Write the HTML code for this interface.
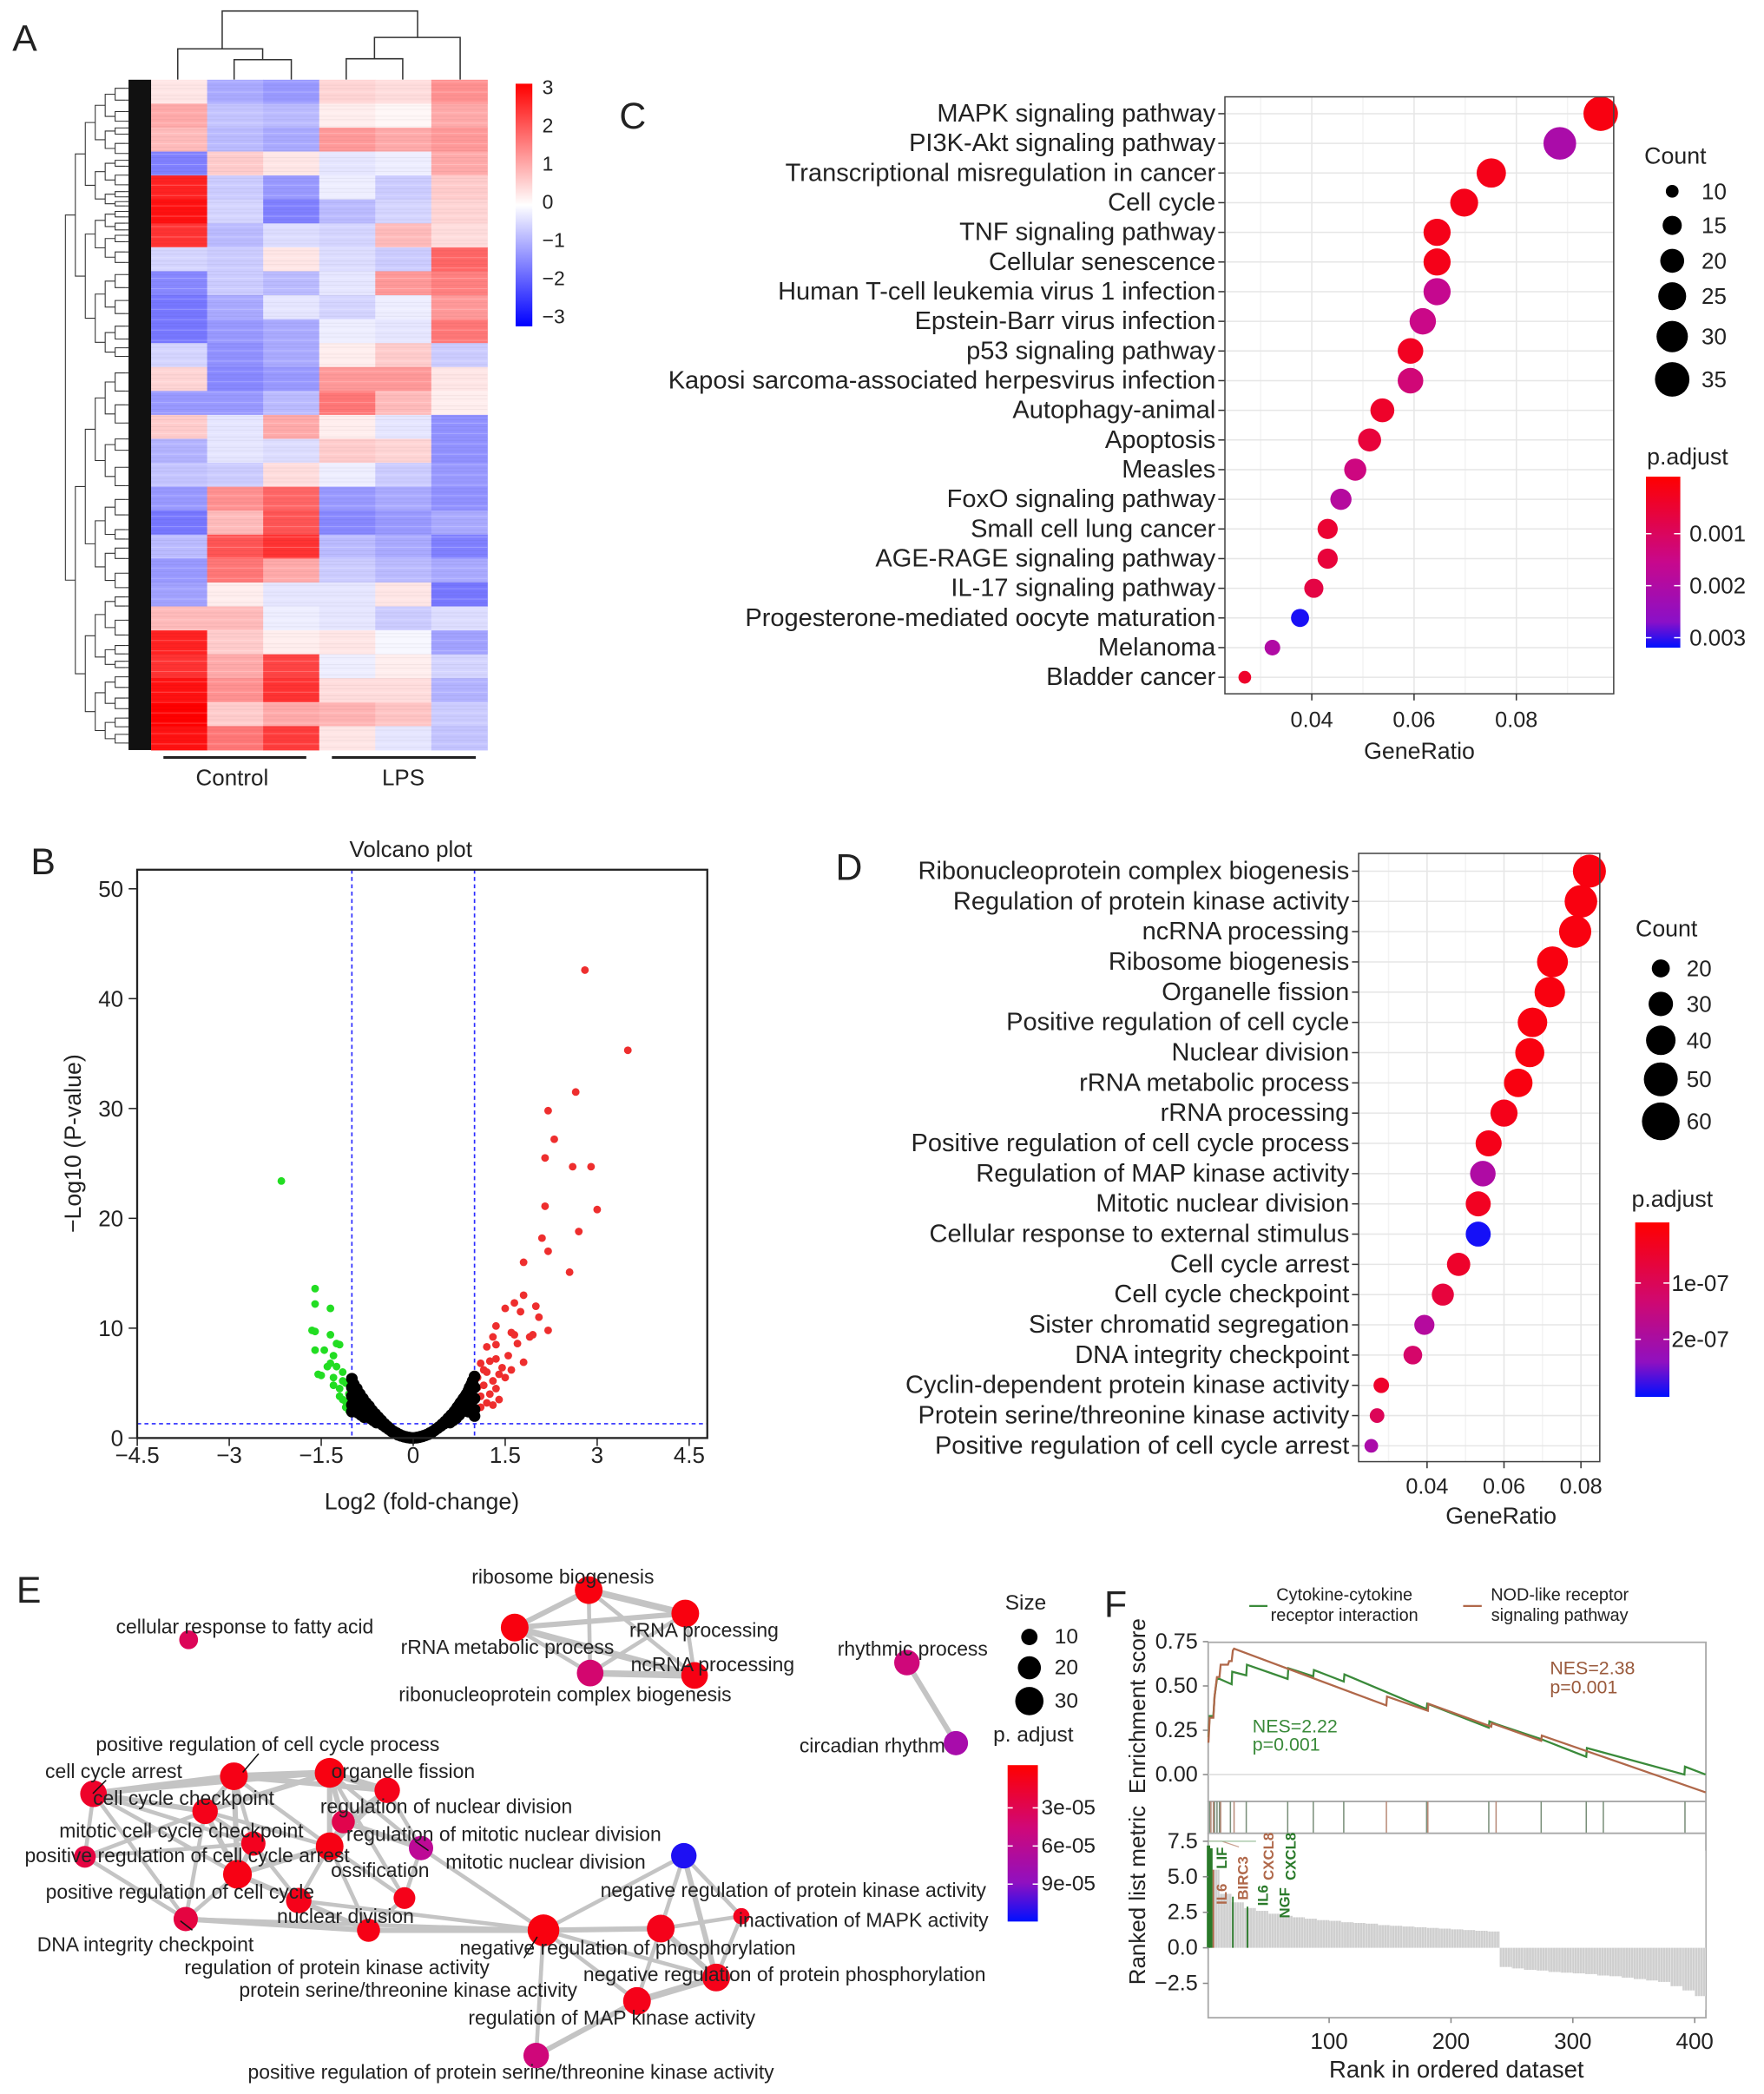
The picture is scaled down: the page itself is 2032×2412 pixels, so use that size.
<!DOCTYPE html>
<html><head><meta charset="utf-8"><title>Figure</title>
<style>
html,body{margin:0;padding:0;background:#fff;}
svg{display:block;font-family:"Liberation Sans",Arial,sans-serif;}
</style></head>
<body>
<svg id="fig" xmlns="http://www.w3.org/2000/svg" width="2032" height="2412" viewBox="0 0 1329.8 1578.5" preserveAspectRatio="none">
<defs>
<linearGradient id="gradC" x1="0" y1="0" x2="0" y2="1"><stop offset="0" stop-color="#ff0000"/><stop offset="0.5" stop-color="#c8088c"/><stop offset="0.85" stop-color="#8a10c8"/><stop offset="1" stop-color="#0010ff"/></linearGradient>
<linearGradient id="gradD" x1="0" y1="0" x2="0" y2="1"><stop offset="0" stop-color="#ff0000"/><stop offset="0.45" stop-color="#d00870"/><stop offset="0.8" stop-color="#9010c0"/><stop offset="1" stop-color="#0010ff"/></linearGradient>
<linearGradient id="gradE" x1="0" y1="0" x2="0" y2="1"><stop offset="0" stop-color="#ff0000"/><stop offset="0.4" stop-color="#d00878"/><stop offset="0.75" stop-color="#9010c0"/><stop offset="1" stop-color="#0010ff"/></linearGradient>
<linearGradient id="gradA" x1="0" y1="0" x2="0" y2="1"><stop offset="0" stop-color="#ff0000"/><stop offset="0.5" stop-color="#ffffff"/><stop offset="1" stop-color="#0000ff"/></linearGradient>
</defs>
</svg>
<script>
// ---------- data ----------
const heatRows = [
[0.3,-1,-1.2,0.5,0.4,1.3],[1.0,-0.7,-0.8,0.2,0.1,1.0],[0.8,-0.8,-1.0,1.2,1.0,1.2],[-1.5,0.6,0.3,-0.3,-0.2,1.0],
[2.6,-0.6,-1.2,-0.2,-0.6,0.6],[2.8,-0.5,-1.5,-0.8,-0.5,0.5],[2.4,-0.8,-0.4,-0.5,0.8,0.4],[-0.5,-0.6,0.3,-0.4,-0.6,1.8],
[-1.4,-0.6,-0.8,-0.3,1.2,1.5],[-1.6,-1.0,-0.3,-0.5,-0.2,1.2],[-1.6,-1.2,-1.0,-0.2,-0.3,1.6],[-0.5,-1.3,-1.0,0.2,0.6,-0.6],
[0.5,-1.4,-1.2,1.2,1.2,0.3],[-1.2,-1.2,-0.8,1.6,0.8,0.2],[0.6,-0.3,1.0,0.2,-0.3,-1.3],[-0.9,-0.3,-0.4,0.6,0.5,-1.3],
[-0.7,-0.6,0.4,-0.2,-0.6,-1.2],[-1.2,1.3,1.8,-1.2,-1.0,-1.3],[-1.6,0.8,2.0,-1.4,-1.2,-1.0],[-0.8,2.0,2.4,-0.8,-1.0,-1.5],
[-1.2,1.6,1.0,-0.6,-0.8,-1.0],[-1.1,0.2,-0.3,-0.3,0.3,-1.6],[0.8,0.8,-0.2,-0.3,-0.6,-0.4],[2.6,0.6,0.2,0.3,-0.1,-1.1],
[2.4,1.0,2.2,-0.2,0.2,-0.5],[2.8,1.3,2.4,0.4,0.4,-0.9],[3.0,0.6,1.0,0.9,0.7,-0.6],[2.8,1.6,2.3,0.3,-0.3,-0.7]];
const heatTicks = [3,2,1,0,-1,-2,-3];

const catC = ["MAPK signaling pathway","PI3K-Akt signaling pathway","Transcriptional misregulation in cancer","Cell cycle","TNF signaling pathway","Cellular senescence","Human T-cell leukemia virus 1 infection","Epstein-Barr virus infection","p53 signaling pathway","Kaposi sarcoma-associated herpesvirus infection","Autophagy-animal","Apoptosis","Measles","FoxO signaling pathway","Small cell lung cancer","AGE-RAGE signaling pathway","IL-17 signaling pathway","Progesterone-mediated oocyte maturation","Melanoma","Bladder cancer"];
const ratioC = [0.0965,0.0885,0.0751,0.0698,0.0645,0.0645,0.0645,0.0617,0.0593,0.0593,0.0538,0.0513,0.0485,0.0457,0.0431,0.0431,0.0404,0.0377,0.0323,0.0269];
const countC = [35,32,27,25,24,24,24,23,22,22,20,19,18,17,16,16,15,14,12,10];
const padjC = [0.0001,0.0021,0.0002,0.0002,0.0002,0.0002,0.0016,0.0015,0.0003,0.0013,0.0004,0.0006,0.0014,0.0019,0.0005,0.0006,0.0007,0.0031,0.0020,0.0004];
const ticksC = [0.04,0.06,0.08];
const countLegC = [10,15,20,25,30,35];
const padjTicksC = [0.001,0.002,0.003];

const volGreen = [[-2.15,23.4],[-1.6,13.6],[-1.6,12.2],[-1.35,11.8],[-1.65,9.8],[-1.6,9.7],[-1.35,9.4],[-1.25,8.6],[-1.6,8],[-1.45,8],[-1.2,8.5],[-1.3,7.5],[-1.35,6.8],[-1.4,6.5],[-1.55,5.8],[-1.5,5.7],[-1.25,6.5],[-1.15,6],[-1.3,5.5],[-1.1,5],[-1.2,4.5],[-1.05,4.0],[-1.15,3.5],[-1.05,3],[-1.2,3.8],[-1.1,2.8],[-1.3,4.8],[-1.15,5.2],[-1.05,2.5],[-1.1,3.3]];
const volRed = [[2.8,42.6],[3.5,35.3],[2.65,31.5],[2.2,29.8],[2.3,27.2],[2.15,25.5],[2.6,24.7],[2.9,24.7],[2.15,21.1],[3.0,20.8],[2.7,18.8],[2.1,18.2],[2.2,17],[1.8,16],[2.55,15.1],[1.8,13],[1.65,12.3],[1.5,11.8],[1.75,11.5],[2.0,12],[2.05,11],[1.35,10.2],[2.2,9.8],[1.6,9.6],[1.65,9.4],[1.95,9.4],[1.9,9.2],[1.3,9.2],[1.35,8.5],[1.7,8.6],[1.2,8.3],[1.55,7.5],[1.8,6.9],[1.35,7.2],[1.25,7],[1.1,6.8],[1.45,6.4],[1.6,6.2],[1.2,6],[1.4,5.8],[1.05,5.5],[1.3,5.2],[1.5,5.5],[1.15,4.8],[1.35,4.5],[1.25,4],[1.1,3.8],[1.4,3.5],[1.2,3.2],[1.1,2.8],[1.3,3],[1.05,4.6],[1.15,6.2]];
const volBlack = [[-1,5.4],[-1,4.6],[-1,3.8],[-1,3.0],[-1,2.4],[-0.97,4.9],[-0.95,4.2],[-0.95,3.4],[-0.95,2.6],[-0.92,4.5],[-0.9,3.8],[-0.9,3.0],[-0.9,2.3],[-0.87,4.0],[-0.85,3.4],[-0.85,2.7],[-0.85,2.1],[-0.82,3.6],[-0.8,3.0],[-0.8,2.4],[-0.8,1.9],[-0.77,3.2],[-0.75,2.7],[-0.75,2.1],[-0.72,2.9],[-0.7,2.4],[-0.7,1.8],[-0.67,2.5],[-0.65,2.0],[-0.65,1.6],[-0.62,2.2],[-0.6,1.8],[-0.6,1.4],[-0.57,1.9],[-0.55,1.5],[-0.52,1.6],[-0.5,1.2],[-0.47,1.3],[-0.45,1.0],[-0.42,1.05],[-0.4,0.8],[-0.37,0.8],[-0.35,0.6],[-0.32,0.6],[-0.3,0.45],[-0.27,0.45],[-0.25,0.3],[-0.22,0.3],[-0.2,0.2],[-0.17,0.18],[-0.15,0.12],[-0.12,0.1],[-0.1,0.06],[-0.07,0.04],[-0.05,0.02],[0,0],[0.05,0.03],[0.07,0.05],[0.1,0.08],[0.12,0.12],[0.15,0.15],[0.17,0.2],[0.2,0.25],[0.22,0.3],[0.25,0.35],[0.27,0.45],[0.3,0.5],[0.32,0.6],[0.35,0.7],[0.37,0.8],[0.4,0.9],[0.42,1.0],[0.45,1.1],[0.47,1.25],[0.5,1.3],[0.52,1.5],[0.55,1.6],[0.57,1.8],[0.6,1.9],[0.6,1.4],[0.62,2.1],[0.65,2.2],[0.65,1.6],[0.67,2.4],[0.7,2.6],[0.7,1.8],[0.72,2.8],[0.75,3.0],[0.75,2.1],[0.77,3.2],[0.8,3.4],[0.8,2.4],[0.82,3.6],[0.85,3.8],[0.85,2.6],[0.87,4.0],[0.9,4.3],[0.9,3.2],[0.9,2.4],[0.92,4.6],[0.95,4.9],[0.95,3.6],[0.95,2.6],[0.97,5.2],[1,5.6],[1,4.6],[1,3.6],[1,2.6],[1,2.0]];
const volXTicks = [-4.5,-3,-1.5,0,1.5,3,4.5];
const volYTicks = [0,10,20,30,40,50];

const catD = ["Ribonucleoprotein complex biogenesis","Regulation of protein kinase activity","ncRNA processing","Ribosome biogenesis","Organelle fission","Positive regulation of cell cycle","Nuclear division","rRNA metabolic process","rRNA processing","Positive regulation of cell cycle process","Regulation of MAP kinase activity","Mitotic nuclear division","Cellular response to external stimulus","Cell cycle arrest","Cell cycle checkpoint","Sister chromatid segregation","DNA integrity checkpoint","Cyclin-dependent protein kinase activity","Protein serine/threonine kinase activity","Positive regulation of cell cycle arrest"];
const ratioD = [0.0822,0.0800,0.0785,0.0726,0.0719,0.0674,0.0667,0.0637,0.0600,0.0560,0.0545,0.0533,0.0533,0.0482,0.0441,0.0393,0.0363,0.0281,0.0270,0.0255];
const countD = [48,47,46,43,42,40,39,38,35,33,32,31,31,28,26,23,21,17,16,15];
const padjD = [0.1,0.1,0.1,0.1,0.1,0.1,0.1,0.1,0.2,0.2,1.9,0.3,2.95,0.4,0.6,1.8,1.1,0.4,0.9,2.0];
const ticksD = [0.04,0.06,0.08];
const countLegD = [20,30,40,50,60];
const padjTicksD = [1,2];

const nodeNames = ["ribosome biogenesis","rRNA processing","rRNA metabolic process","ncRNA processing","ribonucleoprotein complex biogenesis","cellular response to fatty acid","rhythmic process","circadian rhythm","cell cycle arrest","positive regulation of cell cycle process","organelle fission","regulation of nuclear division","cell cycle checkpoint","regulation of mitotic nuclear division","mitotic nuclear division","mitotic cell cycle checkpoint","ossification","positive regulation of cell cycle arrest","positive regulation of cell cycle","chromosome segregation","sister chromatid segregation","DNA integrity checkpoint","nuclear division","regulation of protein kinase activity","negative regulation of phosphorylation","inactivation of MAPK activity","negative regulation of protein kinase activity","negative regulation of protein phosphorylation","regulation of MAP kinase activity","positive regulation of protein serine/threonine kinase activity"];
const nodeX = [443.8,516.6,388,523.6,444.9,142.2,683.7,720.6,70.5,176.3,248.5,291.9,154.6,258.8,317.4,191,248.5,64,179,225.2,304.9,140,277.8,409.7,498.1,558.9,515.5,539.9,480.2,404.2];
const nodeY = [1198.7,1216.3,1226.9,1263,1261.2,1236.1,1253.3,1314,1352.2,1339,1336.4,1349.6,1365.4,1373.3,1393.1,1389.7,1391.8,1399.7,1412.9,1432.7,1430.8,1446.6,1455.1,1455.1,1453.8,1444.5,1398.9,1490.7,1508.4,1549.5];
const nodeSize = [26,26,26,24,24,12,22,20,24,26,30,22,22,18,20,20,26,16,28,22,16,20,18,34,26,9,22,26,26,22];
const nodeP = [0.3,0.3,0.3,0.5,4.5,3.5,5,8,1.5,0.6,0.4,0.8,0.8,3,6.5,1,0.5,2.5,0.5,0.8,0.8,2.5,0.6,0.3,0.8,1,11.5,0.8,0.8,5];
const edges = [[0,1],[0,2],[0,3],[0,4],[1,2],[1,3],[1,4],[2,3],[2,4],[3,4],[6,7],
[8,9],[8,10],[8,12],[8,15],[8,17],[8,18],[8,21],[9,10],[9,11],[9,12],[9,15],[9,18],[9,16],[10,11],[10,12],[10,13],[10,16],[10,14],[10,20],[11,13],[11,16],[11,14],[12,15],[12,18],[12,21],[12,16],[13,16],[13,14],[15,17],[15,18],[15,19],[16,18],[16,19],[16,20],[16,22],[14,20],[18,19],[18,21],[18,22],[19,22],[20,22],[21,22],[17,21],[17,12],[14,23],[21,23],[22,23],[19,23],
[23,24],[23,26],[23,27],[23,28],[23,29],[24,25],[24,26],[24,27],[24,28],[25,26],[26,27],[27,28],[28,29],[25,27]];
const edgeW = [5,4,3,3,4,3,3,5,3,5,4, 5,3,4,3,3,3,3,5,4,4,3,4,3,5,4,4,4,3,3,4,4,3,3,4,3,3,4,4,3,4,3,4,3,3,3,3,4,3,3,4,3,4,3,3,3,3,4,3, 4,3,3,3,3,3,3,4,3,3,4,5,4,3];
const sizeLegE = [10,20,30];
const padjTicksE = [3,6,9];

const esGreenRank = [1,2,5,6,8,10,20,20.5,32,32.5,66,66.5,87,87.5,112,112.5,180,180.5,231,231.5,237,274,311,311.5,391.5,392,409];
const esGreenVal = [0.21,0.33,0.33,0.44,0.54,0.54,0.51,0.58,0.56,0.62,0.54,0.60,0.555,0.59,0.525,0.565,0.37,0.40,0.265,0.30,0.285,0.20,0.10,0.15,0.0,0.045,0.0];
const esBrownRank = [1,2,5,6,8,10,11,17,18,20,21,22,147,147.5,181,181.5,233,233.5,274,274.5,409];
const esBrownVal = [0.18,0.32,0.32,0.44,0.55,0.55,0.62,0.62,0.64,0.64,0.70,0.71,0.39,0.44,0.36,0.40,0.27,0.29,0.19,0.22,-0.10];
const hitsGreen = [2,6,8,10,19,32,66,87,112,180,231,274,311,325,392];
const hitsBrown = [3,5,11,22,147,181,237];
const metricVals = [5.5,3.8,3.2,2.8,2.6,2.4,2.25,2.15,2.05,1.95,1.9,1.8,1.75,1.7,1.6,1.55,1.5,1.45,1.4,1.35,1.3,1.25,1.2,1.15,-1.35,-1.45,-1.55,-1.6,-1.7,-1.75,-1.8,-1.85,-1.95,-2.0,-2.1,-2.2,-2.3,-2.4,-2.7,-3.0,-3.4];
const esTicks = [0.75,0.50,0.25,0.00];
const metricTicks = [7.5,5.0,2.5,0.0,-2.5];
const rankTicks = [100,200,300,400];

// ---------- helpers ----------
const NS='http://www.w3.org/2000/svg';
const svg=document.getElementById('fig');
function mk(tag,attrs,parent){const e=document.createElementNS(NS,tag);for(const k in attrs)e.setAttribute(k,attrs[k]);(parent||svg).appendChild(e);return e;}
function tx(str,x,y,size,anchor,parent,fill){const t=mk('text',{x:x,y:y,'font-size':size,'text-anchor':anchor||'start','dominant-baseline':'central',fill:fill||'#222'},parent);t.textContent=str;return t;}
function lerp(a,b,t){return Math.round(a+(b-a)*t);}
function ramp(t){t=Math.max(0,Math.min(1,t));const s=[[0,255,0,0],[0.5,200,8,140],[0.85,138,16,200],[1,0,16,255]];for(let i=1;i<s.length;i++){if(t<=s[i][0]){const u=(t-s[i-1][0])/(s[i][0]-s[i-1][0]);return `rgb(${lerp(s[i-1][1],s[i][1],u)},${lerp(s[i-1][2],s[i][2],u)},${lerp(s[i-1][3],s[i][3],u)})`;}}return 'rgb(0,16,255)';}
function heat(v){const t=Math.min(1,Math.abs(v)/3);const c=Math.round(255*(1-t));return v>=0?`rgb(255,${c},${c})`:`rgb(${c},${c},255)`;}
function letter(s,x,y){const t=tx(s,x,y,28,'middle');}

// ---------- Panel A ----------
const gA=mk('g',{});


letter('A',18.7,29);
const hx0=113.9, hx1=367.4, hy0=60.1, hy1=565.4;
const colW=(hx1-hx0)/6, rowH=(hy1-hy0)/heatRows.length;
heatRows.forEach((row,i)=>{row.forEach((v,j)=>{
  const r=mk('rect',{x:hx0+j*colW,y:hy0+i*rowH,width:colW+0.3,height:rowH+0.3,fill:heat(v)},gA);
  
  
});});
for(let k=0,y=hy0+1.5;y<hy1;y+=2.6,k++){mk('line',{x1:hx0,x2:hx1,y1:y,y2:y,stroke:(k%3===0)?'#ffffff':'#000000','stroke-width':0.7,opacity:(k%3===0)?0.22:0.04},gA);}
// row dendrogram
const dend=mk('g',{stroke:'#333','stroke-width':0.7,fill:'none'},gA);


mk('rect',{x:96.9,y:hy0,width:17,height:hy1-hy0,fill:'#111',stroke:'none'},dend);
const splitFr=[0.62,0.45,0.55,0.38,0.6,0.5,0.42,0.57];
function tree(a,b,depth){const x=49.3+depth*7.5;if(depth>=6){mk('path',{d:`M${x},${(a+b)/2} H97`},dend);return (a+b)/2;}
  const m=a+(b-a)*splitFr[(depth*3+Math.round(a))%splitFr.length];
  const y1=tree(a,m,depth+1),y2=tree(m,b,depth+1);const xc=x+7.5;
  mk('path',{d:`M${xc},${y1} H${x} V${y2} H${xc}`},dend);return (y1+y2)/2;}
tree(hy0+2,hy1-2,0);
// column dendrogram
const cd=mk('g',{stroke:'#333','stroke-width':1,fill:'none'},gA);


mk('path',{d:'M134,60 V36.8 H198 V45 M176.5,60 V45 H219.6 V60 M167.5,36.8 V8.3 H314.8 V28.2 M261,60 V44.3 H303.6 V60 M282.3,44.3 V28.2 H346.9 V60'},cd);
const ck=mk('rect',{x:388.7,y:63.1,width:12.6,height:182.9,fill:'url(#gradA)'});


heatTicks.forEach(v=>{const t=tx(v<0?'\u2212'+(-v):String(v),408.8,152.15-v*28.82,15,'start');});
mk('line',{x1:123.2,x2:230.9,y1:571,y2:571,stroke:'#222','stroke-width':2});
mk('line',{x1:250.2,x2:358.7,y1:571,y2:571,stroke:'#222','stroke-width':2});
const lc=tx('Control',175,586,17,'middle');
const ll=tx('LPS',304,586,17,'middle');

// ---------- dot plots ----------
function dotPlot(o){
  const g=mk('g',{});
  
  
  const X=v=>o.xt0+(v-0.04)*o.k;
  const Y=i=>o.ry0+i*o.rs;
  mk('rect',{x:o.L,y:o.T,width:o.R-o.L,height:o.B-o.T,fill:'#fff'},g);
  for(let v=0.02;v<=0.1001;v+=0.01){const x=X(v);if(x>o.L&&x<o.R)mk('line',{x1:x,x2:x,y1:o.T,y2:o.B,stroke:(Math.round(v*100)%2===0)?'#e6e6e6':'#f3f3f3','stroke-width':1},g);}
  o.cats.forEach((c,i)=>{mk('line',{x1:o.L,x2:o.R,y1:Y(i),y2:Y(i),stroke:'#e6e6e6','stroke-width':1},g);});
  o.cats.forEach((c,i)=>{
    const d=mk('circle',{cx:X(o.ratio[i]),cy:Y(i),r:o.rf(o.count[i]),fill:ramp(o.pt(o.padj[i]))},g);
    
    
    mk('line',{x1:o.L-5,x2:o.L,y1:Y(i),y2:Y(i),stroke:'#333','stroke-width':1},g);
    const t=tx(c,o.L-7,Y(i),o.fs,'end',g);
    
    
  });
  mk('rect',{x:o.L,y:o.T,width:o.R-o.L,height:o.B-o.T,fill:'none',stroke:'#444','stroke-width':1},g);
  o.ticks.forEach(v=>{mk('line',{x1:X(v),x2:X(v),y1:o.B,y2:o.B+5,stroke:'#333'},g);const t=tx(v.toFixed(2),X(v),o.tickY,16.5,'middle',g);});
  const xt=tx('GeneRatio',o.titleX,o.titleY,17.5,'middle',g);
  
  
  return g;
}
letter('C',477,87.7);
const rC=c=>Math.sqrt(23+5.84*(c-10));
const ptC=p=>(p+0.0000969)/(0.00319+0.0000969);
const gC=dotPlot({name:'panel-c-kegg-dotplot',cats:catC,ratio:ratioC,count:countC,padj:padjC,L:923.4,R:1216.5,T:73,B:523,xt0:988.9,k:3855,ry0:85.7,rs:22.36,rf:rC,pt:ptC,fs:19,ticks:ticksC,tickY:543,titleX:1070,titleY:566});
{const t=tx('Count',1239.6,117.5,17.5,'start',gC);}
const legCY=[144.2,169.9,196.6,223.3,253.7,286];
countLegC.forEach((c,i)=>{const d=mk('circle',{cx:1260.6,cy:legCY[i],r:rC(c),fill:'#000'},gC);const t=tx(String(c),1282.7,legCY[i],17,'start',gC);});
{const t=tx('p.adjust',1241.5,344.3,17.5,'start',gC);}
{const b=mk('rect',{x:1240.8,y:359.3,width:25.9,height:128.9,fill:'url(#gradC)'},gC);}
padjTicksC.forEach(p=>{const y=402.3+(p-0.001)*39200;mk('line',{x1:1240.8,x2:1245,y1:y,y2:y,stroke:'#fff'},gC);mk('line',{x1:1262,x2:1266.7,y1:y,y2:y,stroke:'#fff'},gC);const t=tx(p.toFixed(3),1273.6,y,17,'start',gC);});

letter('D',640,654);
const rD=c=>Math.sqrt(Math.max(4,46+3.9*(c-20)));
const ptD=p=>(p+0.078)/(3.02+0.078);
const gD=dotPlot({name:'panel-d-go-dotplot',cats:catD,ratio:ratioD,count:countD,padj:padjD,L:1024.2,R:1206,T:643.3,B:1101.8,xt0:1075.8,k:2900,ry0:656.7,rs:22.8,rf:rD,pt:ptD,fs:19,ticks:ticksD,tickY:1120.7,titleX:1131.6,titleY:1142.5});
{const t=tx('Count',1256.3,700,17.5,'middle',gD);}
const legDY=[730,756.8,784.2,813.6,845.3];
countLegD.forEach((c,i)=>{const d=mk('circle',{cx:1252,cy:legDY[i],r:rD(c),fill:'#000'},gD);const t=tx(String(c),1271.4,legDY[i],17,'start',gD);});
{const t=tx('p.adjust',1230,903.7,17.5,'start',gD);}
{const b=mk('rect',{x:1232.7,y:921.5,width:25.8,height:131.5,fill:'url(#gradD)'},gD);}
padjTicksD.forEach(p=>{const y=967.2+(p-1)*42.4;mk('line',{x1:1232.7,x2:1237,y1:y,y2:y,stroke:'#fff'},gD);mk('line',{x1:1254,x2:1258.5,y1:y,y2:y,stroke:'#fff'},gD);const t=tx(p+'e-07',1260,y,17,'start',gD);});

// ---------- Panel B ----------
const gB=mk('g',{});


letter('B',32.5,650);
const VX=v=>311.5+v*46.23, VY=v=>1084-v*8.28;
{const t=tx('Volcano plot',309.7,640,17,'middle',gB);}
mk('line',{x1:VX(-1),x2:VX(-1),y1:655.6,y2:1084,stroke:'#2b2bff','stroke-width':1.1,'stroke-dasharray':'3,2.5'},gB);
mk('line',{x1:VX(1),x2:VX(1),y1:655.6,y2:1084,stroke:'#2b2bff','stroke-width':1.1,'stroke-dasharray':'3,2.5'},gB);
mk('line',{x1:103.4,x2:533.2,y1:VY(1.3),y2:VY(1.3),stroke:'#2b2bff','stroke-width':1.1,'stroke-dasharray':'3,2.5'},gB);
volGreen.forEach(p=>{const c=mk('circle',{cx:VX(p[0]),cy:VY(p[1]),r:2.9,fill:'#22dd22'},gB);});
volRed.forEach(p=>{const c=mk('circle',{cx:VX(p[0]),cy:VY(p[1]),r:2.9,fill:'#ee2e2e'},gB);});
volBlack.forEach(p=>{const c=mk('circle',{cx:VX(p[0]),cy:VY(p[1]),r:4.4,fill:'#000'},gB);});
mk('rect',{x:103.4,y:655.6,width:429.8,height:428.4,fill:'none',stroke:'#222','stroke-width':1.5},gB);
volXTicks.forEach(v=>{mk('line',{x1:VX(v),x2:VX(v),y1:1084,y2:1090,stroke:'#222'},gB);const t=tx(v<0?'\u2212'+(-v):String(v),VX(v),1097,17,'middle',gB);});
volYTicks.forEach(v=>{mk('line',{x1:97,x2:103.4,y1:VY(v),y2:VY(v),stroke:'#222'},gB);const t=tx(String(v),93,VY(v),17,'end',gB);});
{const t=tx('Log2 (fold-change)',318,1132,17.5,'middle',gB);}
{const t=tx('\u2212Log10 (P-value)',0,0,17.5,'middle',gB);t.setAttribute('transform','translate(55,862) rotate(-90)');}

// ---------- Panel E ----------
const gE=mk('g',{});


letter('E',21.7,1199);
const rE=s=>Math.sqrt(s)*2.05;
const ptE=p=>(p+0.36)/(11.9+0.36);
edges.forEach((e,i)=>{const l=mk('line',{x1:nodeX[e[0]],y1:nodeY[e[0]],x2:nodeX[e[1]],y2:nodeY[e[1]],stroke:'#c4c4c4','stroke-width':edgeW[i]},gE);});
nodeNames.forEach((n,i)=>{const c=mk('circle',{cx:nodeX[i],cy:nodeY[i],r:rE(nodeSize[i]),fill:ramp(ptE(nodeP[i]))},gE);});
[[195,1322,183,1336],[80,1342,70,1352],[323,1395,313,1388],[145,1455,136,1448],[395,1476,405,1460]].forEach(s=>mk('line',{x1:s[0],y1:s[1],x2:s[2],y2:s[3],stroke:'#111','stroke-width':1},gE));
const eLabels=[["ribosome biogenesis",424.3,1188.6],["cellular response to fatty acid",184.5,1226.1],["rRNA processing",530.7,1228.7],["rRNA metabolic process",382.5,1241.4],["rhythmic process",688,1242.7],["ncRNA processing",537.2,1254.6],["ribonucleoprotein complex biogenesis",426,1277],["positive regulation of cell cycle process",201.8,1314.7],["circadian rhythm",657.6,1315.8],["cell cycle arrest",85.7,1335],["organelle fission",303.9,1335],["cell cycle checkpoint",138.4,1355.4],["regulation of nuclear division",336.4,1361.4],["mitotic cell cycle checkpoint",136.7,1379.9],["regulation of mitotic nuclear division",379.8,1382.5],["positive regulation of cell cycle arrest",141.1,1398.4],["mitotic nuclear division",411.3,1403.6],["ossification",286.5,1409.7],["positive regulation of cell cycle",135.7,1426.1],["negative regulation of protein kinase activity",598,1424.7],["nuclear division",260.4,1444.5],["inactivation of MAPK activity",651,1447.2],["DNA integrity checkpoint",109.6,1465.6],["negative regulation of phosphorylation",473.2,1468.3],["regulation of protein kinase activity",254,1482.8],["negative regulation of protein phosphorylation",591.4,1488.1],["protein serine/threonine kinase activity",307.7,1499.9],["regulation of MAP kinase activity",461.2,1521],["positive regulation of protein serine/threonine kinase activity",385.2,1561.9]];
eLabels.forEach(l=>{const t=tx(l[0],l[1],l[2],15,'middle',gE);});
{const t=tx('Size',773.2,1208.4,16,'middle',gE);}
const legEY=[1234,1257.2,1282.3];
sizeLegE.forEach((s,i)=>{const c=mk('circle',{cx:776,cy:legEY[i],r:rE(s)*0.95,fill:'#000'},gE);const t=tx(String(s),795,legEY[i],16,'start',gE);});
{const t=tx('p. adjust',779,1308,16,'middle',gE);}
{const b=mk('rect',{x:759.6,y:1330.6,width:22.8,height:117.9,fill:'url(#gradE)'},gE);}
padjTicksE.forEach(p=>{const y=1362.8+(p-3)*9.58;mk('line',{x1:759.6,x2:763.5,y1:y,y2:y,stroke:'#fff'},gE);mk('line',{x1:778.5,x2:782.4,y1:y,y2:y,stroke:'#fff'},gE);const t=tx(p+'e-05',785,y,16,'start',gE);});

// ---------- Panel F ----------
const gF=mk('g',{});


letter('F',841,1209.7);
const FX=r=>910.1+r*0.9187, FES=v=>1337.7-v*133.6, FM=v=>1468.3-v*10.71;
const FL=910.8, FR=1286;
mk('rect',{x:FL,y:1238,width:FR-FL,height:120,fill:'#fff',stroke:'#aaa','stroke-width':1.2},gF);
mk('line',{x1:FL,x2:FR,y1:FES(0),y2:FES(0),stroke:'#ddd','stroke-width':1},gF);
function polyPts(rs,vs){return rs.map((r,i)=>FX(r).toFixed(1)+','+FES(vs[i]).toFixed(1)).join(' ');}
{const p=mk('polyline',{points:polyPts(esGreenRank,esGreenVal),fill:'none',stroke:'#3a8a3a','stroke-width':1.5},gF);}
{const p=mk('polyline',{points:polyPts(esBrownRank,esBrownVal),fill:'none',stroke:'#b0684a','stroke-width':1.5},gF);}
esTicks.forEach(v=>{mk('line',{x1:FL-4,x2:FL,y1:FES(v),y2:FES(v),stroke:'#888'},gF);const t=tx(v.toFixed(2),903,FES(v),16.5,'end',gF);});
{const t=tx('NES=2.38',1168.4,1257.6,14,'start',gF,'#9a5a3c');}
{const t=tx('p=0.001',1168.4,1271.9,14,'start',gF,'#9a5a3c');}
{const t=tx('NES=2.22',944.2,1301.3,14,'start',gF,'#3a8a3a');}
{const t=tx('p=0.001',944.2,1315.2,14,'start',gF,'#3a8a3a');}
mk('rect',{x:FL,y:1358,width:FR-FL,height:24,fill:'#fff',stroke:'#aaa','stroke-width':1.2},gF);
hitsGreen.forEach(r=>{const l=mk('line',{x1:FX(r),x2:FX(r),y1:1358,y2:1382,stroke:'#7a8f7a','stroke-width':1},gF);});
hitsBrown.forEach(r=>{const l=mk('line',{x1:FX(r),x2:FX(r),y1:1358,y2:1382,stroke:'#b88a78','stroke-width':1},gF);});
mk('rect',{x:FL,y:1382,width:FR-FL,height:139,fill:'#fff',stroke:'#aaa','stroke-width':1.2},gF);
metricVals.forEach((m,i)=>{const x0=FX(Math.max(1,i*10)),x1=FX(Math.min(409,i*10+10));const b=mk('rect',{x:x0,y:Math.min(FM(m),FM(0)),width:x1-x0,height:Math.abs(FM(m)-FM(0)),fill:'#cfcfcf'},gF);});
for(let r=2;r<409;r+=2.2){mk('line',{x1:FX(r),x2:FX(r),y1:1395,y2:1515,stroke:'#fff','stroke-width':0.35,opacity:0.6},gF);}
[[1,7.2,'#2a7a2a'],[3,7.0,'#2a7a2a'],[5,5.5,'#b0684a'],[21,3.6,'#2a7a2a'],[33,2.9,'#2a7a2a']].forEach(h=>mk('line',{x1:FX(h[0]),x2:FX(h[0]),y1:FM(0),y2:FM(h[1]),stroke:h[2],'stroke-width':h[0]<4?2.5:1.2},gF));
mk('polyline',{points:`${FX(1)},${FM(7.5)} ${FX(12)},${FM(7.5)} ${FX(26)},${FM(7.1)}`,fill:'none',stroke:'#c9a090','stroke-width':0.8},gF);
mk('polyline',{points:`${FX(1)},${FM(7.5)} ${FX(40)},${FM(7.5)}`,fill:'none',stroke:'#9cbf9c','stroke-width':0.8},gF);
metricTicks.forEach(v=>{mk('line',{x1:FL-4,x2:FL,y1:FM(v),y2:FM(v),stroke:'#888'},gF);const t=tx(v<0?'\u2212'+(-v).toFixed(1):v.toFixed(1),903,FM(v),16.5,'end',gF);});
rankTicks.forEach(r=>{mk('line',{x1:FX(r),x2:FX(r),y1:1521,y2:1525,stroke:'#888'},gF);const t=tx(String(r),FX(r),1538.7,17,'middle',gF);});
const genes=[['LIF',921,1400.6,'#2a7a2a'],['IL6',921,1427.8,'#b0684a'],['BIRC3',937,1415.8,'#b0684a'],['IL6',952.2,1428.8,'#2a7a2a'],['CXCL8',956.6,1399.4,'#b0684a'],['NGF',968.6,1434.4,'#2a7a2a'],['CXCL8',973,1399.4,'#2a7a2a']];
genes.forEach(g=>{const t=tx(g[0],0,0,11,'middle',gF,g[3]);t.setAttribute('transform',`translate(${g[1]},${g[2]}) rotate(-90)`);t.setAttribute('font-weight','bold');});
{const t=tx('Rank in ordered dataset',1098,1560,18,'middle',gF);}
{const t=tx('Enrichment score',0,0,17,'middle',gF);t.setAttribute('transform','translate(857.3,1286) rotate(-90)');}
{const t=tx('Ranked list metric',0,0,17,'middle',gF);t.setAttribute('transform','translate(857.3,1428.7) rotate(-90)');}
{const l=mk('line',{x1:941.8,x2:955.5,y1:1210.6,y2:1210.6,stroke:'#3a8a3a','stroke-width':1.5},gF);}
{const t=tx('Cytokine-cytokine',1013.5,1202.6,13,'middle',gF);}
{const t=tx('receptor interaction',1013.5,1218,13,'middle',gF);}
{const l=mk('line',{x1:1103,x2:1117,y1:1210.6,y2:1210.6,stroke:'#b0684a','stroke-width':1.5},gF);}
{const t=tx('NOD-like receptor',1175.8,1202.6,13,'middle',gF);}
{const t=tx('signaling pathway',1175.8,1218,13,'middle',gF);}
</script>
</body></html>
